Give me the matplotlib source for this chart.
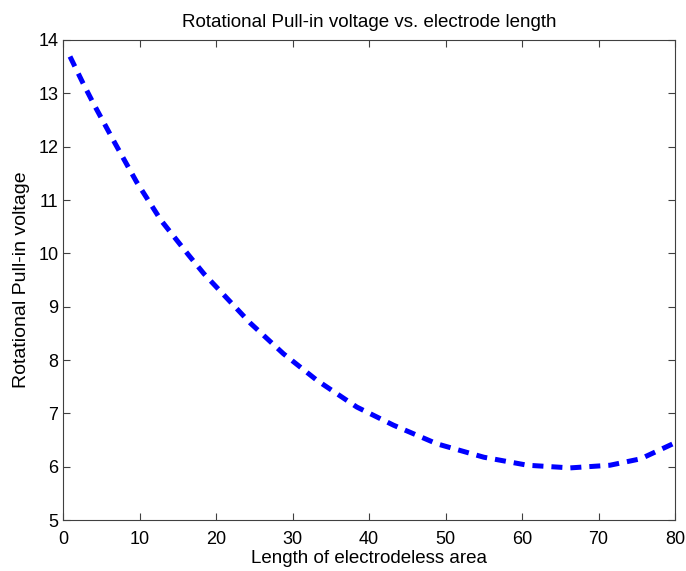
import matplotlib.pyplot as plt

plt.rcParams['font.family'] = ['Liberation Sans', 'DejaVu Sans']

# values
length = [0.9, 2.6, 4.0, 6.8, 9.6, 12.8, 16.4, 18.4, 24.5, 28.8, 33.2, 38.4,
          43.2, 48.9, 55.0, 60.7, 66.3, 71.5, 75.5, 80.0]
voltage = [13.69, 13.19, 12.80, 12.06, 11.34, 10.62, 9.97, 9.62, 8.69, 8.12,
           7.62, 7.12, 6.78, 6.43, 6.18, 6.03, 5.98, 6.03, 6.15, 6.45]

fig = plt.figure(figsize=(6.86, 5.71), dpi=100)
ax = fig.add_axes([0.092, 0.089, 0.892, 0.841])

ax.plot(length, voltage, color="#0000ff", linewidth=3.6,
        linestyle=(0, (2.2, 1.6)), dash_capstyle="butt")

ax.set_xlim(0, 80)
ax.set_ylim(5, 14)
ax.set_xticks(range(0, 81, 10))
ax.set_yticks(range(5, 15))
ax.tick_params(direction="in", top=True, right=True, length=5,
               labelsize=13, width=0.8, color="#404040")
ax.tick_params(axis="x", pad=8)
for s in ax.spines.values():
    s.set_color("#404040")

ax.set_title("Rotational Pull-in voltage vs. electrode length", fontsize=13.5, pad=9)
ax.set_xlabel("Length of electrodeless area", fontsize=13.5, labelpad=1)
ax.set_ylabel("Rotational Pull-in voltage", fontsize=14, labelpad=6)

fig.savefig("out.png", dpi=100)
